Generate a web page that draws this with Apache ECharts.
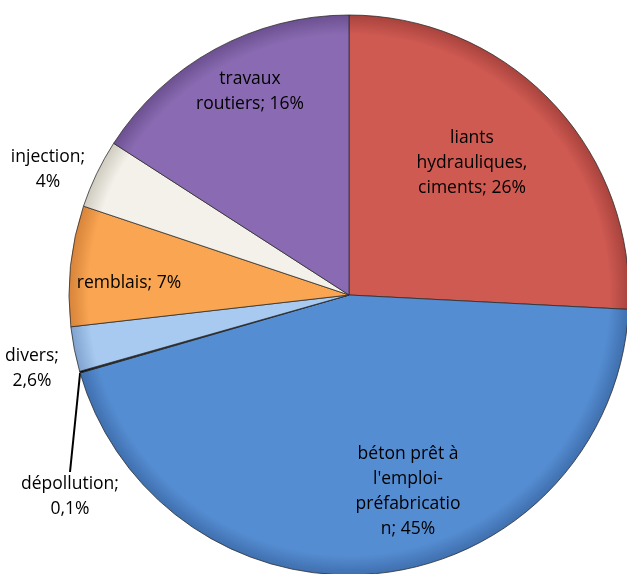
<!DOCTYPE html>
<html>
<head>
<meta charset="utf-8">
<script src="https://cdn.jsdelivr.net/npm/echarts@6/dist/echarts.min.js"></script>
<style>
  html, body { margin: 0; padding: 0; background: #fff; }
  #chart { width: 627px; height: 574px; }
</style>
</head>
<body>
<div id="chart"></div>
<script>
const names = [
  'liants\nhydrauliques,\nciments',
  "béton prêt à\nl'emploi-\npréfabricatio\nn",
  'dépollution',
  'divers',
  'remblais',
  'injection',
  'travaux\nroutiers'
]
const values = [26, 45, 0.1, 2.6, 7, 4, 16]
const valueLabels = ['26%', '45%', '0,1%', '2,6%', '7%', '4%', '16%']

const colors = ['#CF5A52', '#558DD2', '#2a2a2a', '#A8CAF0', '#F9A552', '#F3F1EA', '#8A6BB3']
const edgeColors = ['#A8433D', '#3F6FAE', '#000', '#7FA3CF', '#D7833A', '#CFCBC0', '#6C5090']

// label centres in pixels
const labelSpots = [
  { x: 472, y: 163 },
  { x: 408, y: 492 },
  { x: 70, y: 497 },
  { x: 32, y: 369 },
  { x: 129, y: 283 },
  { x: 48, y: 170 },
  { x: 250, y: 92 }
]
const outside = [false, false, true, true, false, true, false]

const cx = 349, cy = 295, R = 280

const chart = echarts.init(document.getElementById('chart'))

const data = values.map((v, i) => ({
  value: v,
  name: names[i],
  label: {
    formatter: names[i] + (outside[i] ? ';\n' : '; ') + valueLabels[i]
  },
  labelLine: { show: i === 2 },
  itemStyle: {
    color: {
      type: 'radial', x: cx, y: cy, r: R, global: true,
      colorStops: [
        { offset: 0, color: colors[i] },
        { offset: 0.93, color: colors[i] },
        { offset: 1, color: edgeColors[i] }
      ]
    }
  }
}))

chart.setOption({
  animation: false,
  series: [{
    type: 'pie',
    center: [cx, cy],
    radius: R,
    startAngle: 90,
    clockwise: true,
    avoidLabelOverlap: false,
    data: data,
    itemStyle: {
      borderColor: 'rgba(40,40,40,0.75)',
      borderWidth: 1
    },
    label: {
      position: 'inside',
      color: '#000',
      fontFamily: 'Open Sans',
      fontSize: 17.5,
      lineHeight: 25,
      align: 'center'
    },
    labelLine: {
      length: 0,
      length2: 0,
      lineStyle: { color: '#000', width: 2 }
    },
    labelLayout: function (p) {
      const s = labelSpots[p.dataIndex]
      return { x: s.x, y: s.y, align: 'center', verticalAlign: 'middle' }
    }
  }]
})
</script>
</body>
</html>
